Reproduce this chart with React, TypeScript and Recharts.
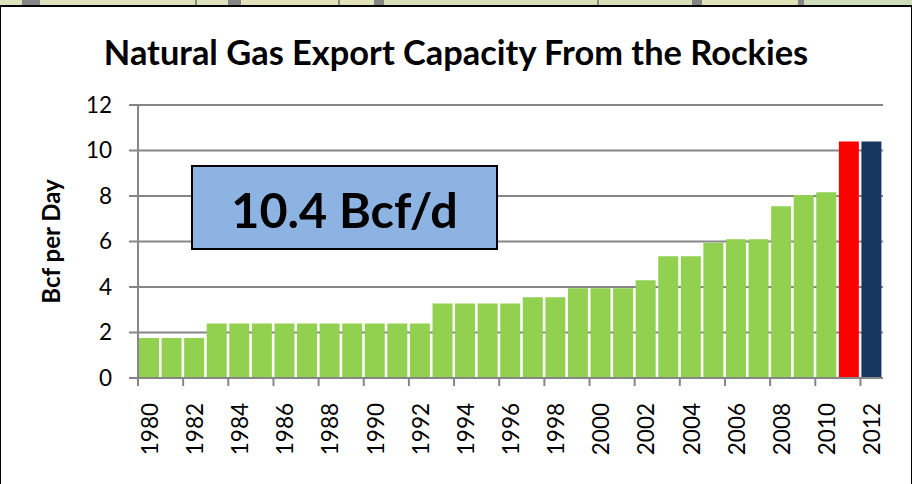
import { Bar, BarChart, CartesianGrid, Cell, XAxis, YAxis } from "recharts";

const GREEN = "#92d050";
const RED = "#ff0000";
const NAVY = "#17375e";
const AXIS = "#868686";
const FONT = "Lato, 'Open Sans', sans-serif";

const YEARS = [
  1980, 1981, 1982, 1983, 1984, 1985, 1986, 1987, 1988, 1989, 1990, 1991, 1992,
  1993, 1994, 1995, 1996, 1997, 1998, 1999, 2000, 2001, 2002, 2003, 2004, 2005,
  2006, 2007, 2008, 2009, 2010, 2011, 2012,
];
const CAPACITY = [
  1.76, 1.76, 1.76, 2.4, 2.4, 2.4, 2.4, 2.4, 2.4, 2.4, 2.4, 2.4, 2.4, 3.28,
  3.28, 3.28, 3.28, 3.55, 3.55, 3.94, 3.94, 3.94, 4.3, 5.35, 5.35, 5.93, 6.1,
  6.1, 7.55, 8.04, 8.17, 10.4, 10.4,
];
const BAR_COLORS: Record<number, string> = { 2011: RED, 2012: NAVY };
const Y_TICKS = [0, 2, 4, 6, 8, 10, 12];

const data = YEARS.map((year, i) => ({ year, capacity: CAPACITY[i] }));

// tick marks sit between the categories, labels in the middle of them
function YearTick({ x, y, payload }: any) {
  const half = 745 / YEARS.length / 2;
  return (
    <g>
      <line x1={x - half} x2={x - half} y1={y} y2={y + 8} stroke={AXIS} strokeWidth={2} />
      <text
        x={x}
        y={y + 25}
        transform={`rotate(-90 ${x} ${y + 25})`}
        textAnchor="end"
        dominantBaseline="central"
        fontSize={22.5}
        fill="#000"
        fontFamily={FONT}
      >
        {payload.value}
      </text>
    </g>
  );
}

// top of the slide behind the chart
const strip =
  "linear-gradient(90deg, #dfe0bc 0 22px, #858585 22px 40px, #dfe0bc 40px 195px, #8a8a80 195px 197px, #dfe0bc 197px 228px, #858585 228px 241px, #e3e2b8 241px 338px, #8a8a80 338px 340px, #e3e2b8 340px 374px, #858585 374px 384px, #d8dfb8 384px 597px, #8a8a80 597px 599px, #d8dfb8 599px 692px, #858585 692px 702px, #dfe4b8 702px 798px, #858585 798px 804px, #cfdcbc 804px 912px)";

export default function App() {
  return (
    <div
      style={{
        position: "absolute",
        left: 0,
        top: 0,
        width: 912,
        height: 484,
        overflow: "hidden",
        background: "#fff",
        fontFamily: FONT,
      }}
    >
      <div style={{ position: "absolute", left: 0, top: 0, width: 912, height: 5, background: strip }} />
      <div
        style={{
          position: "absolute",
          left: 0,
          top: 5,
          width: 912,
          height: 479,
          boxSizing: "border-box",
          borderTop: "2px solid #000",
          borderLeft: "1px solid #000",
          borderRight: "1px solid #000",
        }}
      />
      <BarChart
        width={912}
        height={484}
        data={data}
        margin={{ top: 105, right: 29, bottom: 0, left: 0 }}
        barCategoryGap={0}
        style={{ position: "absolute", left: 0, top: 0 }}
      >
        <CartesianGrid vertical={false} stroke={AXIS} strokeWidth={2} />
        <XAxis
          dataKey="year"
          height={106}
          interval={1}
          tickLine={false}
          tickSize={0}
          tickMargin={0}
          axisLine={{ stroke: AXIS, strokeWidth: 2 }}
          tick={<YearTick />}
        />
        <YAxis
          width={138}
          domain={[0, 12]}
          ticks={Y_TICKS}
          interval={0}
          tickSize={9}
          tickMargin={17}
          axisLine={{ stroke: AXIS, strokeWidth: 2 }}
          tickLine={{ stroke: AXIS, strokeWidth: 2 }}
          tick={{ fontSize: 22.5, fill: "#000", fontFamily: FONT }}
          label={{
            value: "Bcf per Day",
            angle: -90,
            position: "insideLeft",
            offset: 51,
            style: { fontSize: 24, fontWeight: 700, fill: "#000", fontFamily: FONT, textAnchor: "middle" },
          }}
        />
        <Bar dataKey="capacity" barSize={20} isAnimationActive={false}>
          {data.map((d) => (
            <Cell key={d.year} fill={BAR_COLORS[d.year] ?? GREEN} />
          ))}
        </Bar>
      </BarChart>
      <div
        style={{
          position: "absolute",
          left: 0,
          width: 912,
          top: 32,
          textAlign: "center",
          fontSize: 34.4,
          fontWeight: 700,
          color: "#000",
          lineHeight: "40px",
        }}
      >
        Natural Gas Export Capacity From the Rockies
      </div>
      <div
        style={{
          position: "absolute",
          left: 191,
          top: 165,
          width: 307,
          height: 85,
          boxSizing: "border-box",
          border: "2px solid #000",
          background: "#8db3e2",
          textAlign: "center",
          fontSize: 48.5,
          fontWeight: 700,
          lineHeight: "85px",
          color: "#000",
        }}
      >
        10.4 Bcf/d
      </div>
    </div>
  );
}
